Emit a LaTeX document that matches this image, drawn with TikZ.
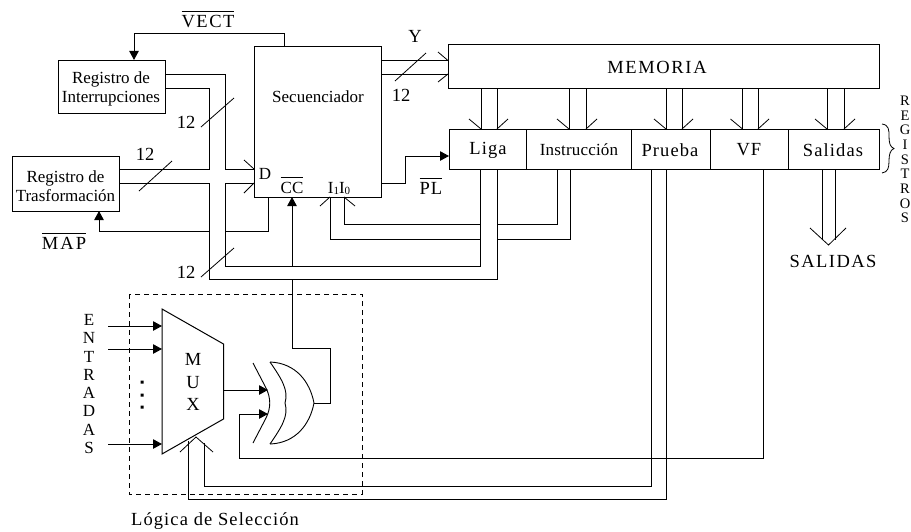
\documentclass[tikz,border=0pt]{standalone}
\usepackage{fontspec}
\setmainfont{Liberation Serif}
\usetikzlibrary{arrows.meta}
\newcommand\Ts[2]{\addfontfeature{LetterSpace=#1}#2}
\newcommand\Ov[1]{$\overline{\hbox{\rule{0pt}{14.5pt}#1}}$}
\tikzset{
  x=1pt,y=-1pt,
  wire/.style={line width=1pt,line join=miter},
  barb/.style={line width=.8pt},
  solid tip/.style={wire,-{Triangle[length=9pt,width=9.5pt]}},
  regbox/.style={draw,line width=1pt,inner sep=0pt,align=center},
  txt/.style={inner sep=0pt,font=\fontsize{17}{19.5}\selectfont,align=center},
  big/.style={inner sep=0pt,font=\fontsize{18.5}{20}\selectfont,align=center},
  stack/.style={inner sep=0pt,align=center},
  slash/.style={line width=.8pt}
}
\begin{document}
\begin{tikzpicture}
\useasboundingbox (0,0) rectangle (911,531);
% boxes
\node[regbox,minimum width=107pt,minimum height=53.5pt] (rint) at (111.5,87.2) {};
\node[txt] (rintt) at (111,89) {Registro de\\Interrupciones};
\node[regbox,minimum width=107pt,minimum height=55pt] (rtra) at (65.5,183.5) {};
\node[txt] (rtrat) at (65.5,186) {Registro de\\Trasformación};
\node[regbox,minimum width=127pt,minimum height=151pt] (seq) at (317.5,121.5) {};
\node[txt] (seqt) at (318,97) {Secuenciador};
\node[regbox,minimum width=431pt,minimum height=43.5pt] (mem) at (663.5,66.5) {};
\node[big] (memt) at (657,67) {\Ts{9}{MEMORIA}};
\node[regbox,minimum width=77pt,minimum height=40pt] (liga) at (487.5,149) {};
\node[regbox,minimum width=105pt,minimum height=40pt] (inst) at (578.5,149) {};
\node[regbox,minimum width=79pt,minimum height=40pt] (prue) at (670.5,149) {};
\node[regbox,minimum width=78pt,minimum height=40pt] (vf) at (749,149) {};
\node[regbox,minimum width=91pt,minimum height=40pt] (sal) at (833.5,149) {};
\node[big] (ligat) at (488,150) {\Ts{6}{Liga}};
\node[txt] (instt) at (579,150) {\Ts{1}{Instrucción}};
\node[big] (pruet) at (670,150) {\Ts{6}{Prueba}};
\node[big] (vft) at (749,150) {\Ts{5}{VF}};
\node[big] (salt) at (833,150) {\Ts{6}{Salidas}};
% labels
\node[big,anchor=base] (lvect) at (208,27) {\Ts{8}{\Ov{VECT}}};
\node[big,anchor=base] (lmap) at (64,249) {\Ts{11}{\Ov{MAP}}};
\node[big,anchor=base] (lpl) at (431,194) {\Ts{5}{\Ov{PL}}};
\node[txt,anchor=base] (lcc) at (292,193) {\Ov{CC}};
\node[txt] (ld) at (265,173.5) {D};
\node[txt,font=\fontsize{17}{19}\selectfont,anchor=base] (lii) at (339,193) {I\raisebox{-1pt}{\fontsize{11}{11}\selectfont 1}I\raisebox{-1pt}{\fontsize{11}{11}\selectfont 0}};
\node[big] (lY) at (415,36) {Y};
\node[big] (n1) at (401,95) {12};
\node[big] (n2) at (186,122) {12};
\node[big] (n3) at (145,154) {12};
\node[big] (n4) at (186,272) {12};
\node[big] (lsal) at (833,261) {\Ts{8}{SALIDAS}};
\node[big] (llog) at (215,521) {\Ts{6}{Lógica de Selección}};
\node[stack,font=\fontsize{14.5}{14.7}\selectfont] (lreg) at (905,159.5) {R\\E\\G\\I\\S\\T\\R\\O\\S};
\node[stack,font=\fontsize{17}{18.3}\selectfont] (lent) at (89,384) {E\\N\\T\\R\\A\\D\\A\\S};
\node[stack,font=\fontsize{18.5}{22.5}\selectfont] (lmux) at (193,382) {M\\U\\X};
\fill (140.5,380.5) rectangle (143.5,383.5) (140.5,393.5) rectangle (143.5,396.5) (140.5,405.5) rectangle (143.5,408.5);
% dashed box
\draw[dashed,line width=1pt,dash pattern=on 5pt off 4pt] (129,294) rectangle (362,494);
% mux
\coordinate (m1) at (162,309); \coordinate (m2) at (223.5,344);
\coordinate (m3) at (223.5,419); \coordinate (m4) at (162,454);
\draw[wire] (m1) -- (m2) -- (m3) -- (m4) -- cycle;
\draw[solid tip] (108,326) -- (m1|-0,326);
\draw[solid tip] (108,349) -- (m1|-0,349);
\draw[solid tip] (108,444) -- (m1|-0,444);
% xor
\coordinate (xo) at (314,403);
\draw[line width=.9pt] (253,363) -- (266,388) .. controls (271,398) and (271,408) .. (266,418) -- (253,443);
\draw[line width=.9pt] (270,362) .. controls (281,378) and (289,390) .. (285,403) .. controls (289,416) and (281,428) .. (270,444);
\draw[line width=.9pt] (270,362) .. controls (296,363) and (310,382) .. (xo) .. controls (310,424) and (296,443) .. (270,444);
\draw[solid tip] (m2|-0,390) -- (268,390);
\draw[solid tip] (763,169) -- (763,458) -- (239,458) -- (239,414) -- (268,414);
\draw[wire] (xo) -- (330,403) -- (330,348) -- (292,348) -- (292,279.5);
% Prueba to mux
\draw[wire] (651,169) -- (651,486) -- (204,486) -- (204,443);
\draw[wire] (666,169) -- (666,499) -- (188,499) -- (188,441);
\draw[barb] (180,452) -- (196,437) -- (213,452);
% vect
\draw[solid tip] (284,46) -- (284,33) -- (134,33) -- (rint.north-|134,0);
% interrupt reg
\draw[wire] (rint.east|-0,74) -- (225,74) -- (225,169) -- (seq.west|-0,169);
\draw[wire] (rint.east|-0,88) -- (209,88) -- (209,169) -- (rtra.east|-0,169);
% transform reg and liga
\draw[wire] (rtra.east|-0,183) -- (209,183) -- (209,279.5) -- (497,279.5) -- (497,169);
\draw[wire] (seq.west|-0,183) -- (225,183) -- (225,266) -- (480,266) -- (480,169);
\draw[barb] (244,160) -- (254,169) (244,193) -- (254,183);
% map
\draw[wire] (268,197) -- (268,231.5) -- (225,231.5);
\draw[solid tip] (209,231.5) -- (99,231.5) -- (99,211);
% cc
\draw[solid tip] (292,266) -- (292,197);
% I1 I0
\draw[wire] (330,197) -- (330,239) -- (480,239);
\draw[wire] (497,239) -- (570,239) -- (570,169);
\draw[wire] (344,197) -- (344,224.5) -- (480,224.5);
\draw[wire] (497,224.5) -- (557,224.5) -- (557,169);
\draw[barb] (320,206) -- (330,197) (355,206) -- (344,197);
% Y bus
\draw[wire] (seq.east|-0,60.5) -- (mem.west|-0,60.5);
\draw[wire] (seq.east|-0,74) -- (mem.west|-0,74);
\draw[barb] (438,52) -- (448,60.5) (438,82) -- (448,74);
% PL
\draw[solid tip] (381,183.5) -- (405,183.5) -- (405,156) -- (449,156);
% memory to registers
\foreach \a/\b in {481/497,569/586,666/682,742.5/758,827/844}{
  \draw[wire] (\a,88) -- (\a,129);
  \draw[wire] (\b,88) -- (\b,129);
  \draw[barb] (\a-12,119) -- (\a,129);
  \draw[barb] (\b+11,119) -- (\b,129);
}
% salidas
\draw[wire] (822,169) -- (822,240);
\draw[wire] (835,169) -- (835,240);
\draw[barb] (810,228) -- (828.5,245) -- (846,228);
% brace
\draw[line width=.8pt] (882,124) .. controls (889,125) and (889,130) .. (889,136) .. controls (889,143) and (890,147) .. (894,148.5) .. controls (890,150) and (889,155) .. (889,161) .. controls (889,168) and (888,172) .. (882,173);
% slashes
\draw[slash] (201,127) -- (234,98);
\draw[slash] (139,191) -- (172,161);
\draw[slash] (201,277) -- (234,248);
\draw[slash] (395,81) -- (426,53);
\end{tikzpicture}
\end{document}
